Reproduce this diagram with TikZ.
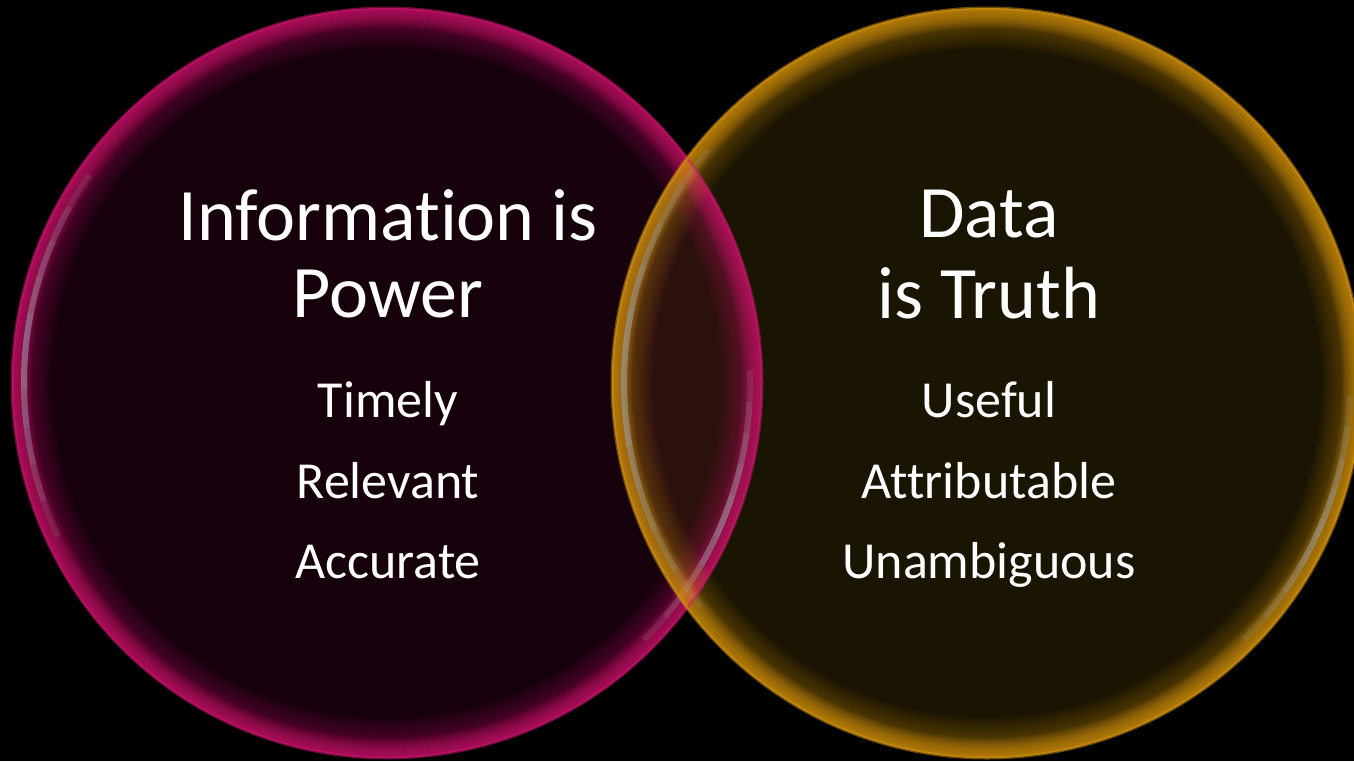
\documentclass[tikz,border=0pt]{standalone}
\usepackage{fontspec}
\setmainfont{Carlito}[Ligatures={NoCommon}, RawFeature={-liga;-clig;-dlig}]
\definecolor{leftfill}{RGB}{22,0,12}
\definecolor{rightfill}{RGB}{26,20,2}
\definecolor{lensfill}{RGB}{44,16,12}
\definecolor{pinkrim}{RGB}{205,25,110}
\definecolor{goldrim}{RGB}{215,150,20}
\definecolor{hl}{RGB}{165,170,180}
\begin{document}
\begin{tikzpicture}[x=1pt,y=-1pt,
  big/.style={text=white, font=\fontsize{74}{80}\selectfont, anchor=base, inner sep=0pt},
  small/.style={text=white, font=\fontsize{52}{60}\selectfont, anchor=base, inner sep=0pt},
  glowstroke/.style={line width=#1, opacity=0.07},
  softstroke/.style={line width=#1, opacity=0.045},
  hlstroke/.style={hl, line width=6pt, opacity=0.14}]
\fill[black] (0,0) rectangle (1354,761);
\useasboundingbox (0,0) rectangle (1354,761);
\coordinate (L) at (387,383);
\coordinate (R) at (987,383);
% fills
\fill[leftfill] (L) circle[radius=375];
\fill[rightfill] (R) circle[radius=375];
\begin{scope}
  \clip (L) circle[radius=375];
  \fill[lensfill] (R) circle[radius=375];
\end{scope}
% left glow
\begin{scope}
  \clip (L) circle[radius=375];
  \foreach \w in {2,4,...,40} \draw[pinkrim, glowstroke=\w pt] (L) circle[radius=375];
  \foreach \w in {44,50,...,80} \draw[pinkrim, softstroke=\w pt] (L) circle[radius=375];
  \foreach \k [evaluate=\k as \a using -145-\k*6, evaluate=\k as \b using -205+\k*6] in {0,...,4}
    \draw[hlstroke] ([shift={(\a:363)}]L) arc[start angle=\a, end angle=\b, radius=363];
  \foreach \k [evaluate=\k as \a using 45-\k*5, evaluate=\k as \b using -2+\k*5] in {0,...,4}
    \draw[hlstroke] ([shift={(\a:363)}]L) arc[start angle=\a, end angle=\b, radius=363];
\end{scope}
% right glow
\begin{scope}
  \clip (R) circle[radius=375];
  \foreach \w in {2,4,...,40} \draw[goldrim, glowstroke=\w pt] (R) circle[radius=375];
  \foreach \w in {44,50,...,80} \draw[goldrim, softstroke=\w pt] (R) circle[radius=375];
  \foreach \k [evaluate=\k as \a using -140-\k*7, evaluate=\k as \b using -218+\k*7] in {0,...,4}
    \draw[hlstroke] ([shift={(\a:363)}]R) arc[start angle=\a, end angle=\b, radius=363];
  \foreach \k [evaluate=\k as \a using 45-\k*5, evaluate=\k as \b using 2+\k*5] in {0,...,4}
    \draw[hlstroke] ([shift={(\a:363)}]R) arc[start angle=\a, end angle=\b, radius=363];
\end{scope}
% soft outer edges
\draw[pinkrim, line width=3pt, opacity=0.5] (L) circle[radius=375];
\draw[goldrim, line width=3pt, opacity=0.5] (R) circle[radius=375];
% texts
\node[big] (t1) at (388,240) {Information is};
\node[big] (t2) at (388,317) {Power};
\node[small] (a1) at (388,417) {Timely};
\node[small] (a2) at (388,498) {Relevant};
\node[small] (a3) at (388,578) {Accurate};
\node[big] (d1) at (989,237) {Data};
\node[big] (d2) at (989,318) {is Truth};
\node[small] (b1) at (989,417) {Useful};
\node[small] (b2) at (989,498) {Attributable};
\node[small] (b3) at (989,578) {Unambiguous};
\end{tikzpicture}
\end{document}
